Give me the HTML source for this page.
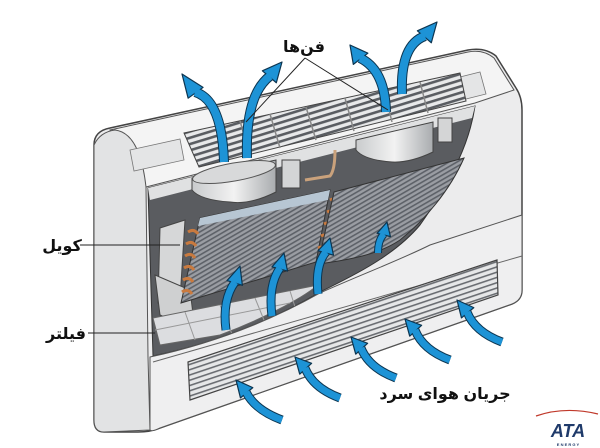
<!DOCTYPE html>
<html><head><meta charset="utf-8"><style>
html,body{margin:0;padding:0;background:#fff;}
svg{display:block}
text{font-family:"Liberation Sans","DejaVu Sans",sans-serif;font-weight:bold;fill:#111}
</style></head><body>
<svg id="s" width="600" height="448" viewBox="0 0 600 448" xmlns="http://www.w3.org/2000/svg">
<defs>
<pattern id="fin" width="4" height="4" patternUnits="userSpaceOnUse" patternTransform="rotate(60)">
<rect width="4" height="4" fill="#9a9da3"/><rect width="1.6" height="4" fill="#5d6168"/></pattern>
<pattern id="gr" width="6" height="6" patternUnits="userSpaceOnUse" patternTransform="rotate(-17)">
<rect width="6" height="6" fill="#e8e9ea"/><rect width="6" height="2.6" fill="#5a5d62"/></pattern>
<pattern id="gr2" width="5" height="5" patternUnits="userSpaceOnUse" patternTransform="rotate(-18.5)">
<rect width="5" height="5" fill="#e6e7e8"/><rect width="5" height="1.6" fill="#6a6d72"/></pattern>
<linearGradient id="fan" x1="0" x2="1"><stop offset="0" stop-color="#c9cbcd"/><stop offset="0.5" stop-color="#f2f2f2"/><stop offset="1" stop-color="#a9acaf"/></linearGradient>
</defs>
<rect width="600" height="448" fill="#fff"/>
<path d="M94,145 Q94,131 110,128 L468,50 Q485,47 496,56 L516,88 Q522,97 522,110 L522,290 Q522,300 512,304 L160,428 Q150,432 138,432 L104,432 Q94,432 94,420 Z" fill="#ececed" stroke="#444" stroke-width="1.5"/>
<path d="M110,130 L468,52 Q483,49 494,58 L514,90 L475,103 L146,187 Z" fill="#f4f4f4" stroke="#555" stroke-width="1"/>
<path d="M94,145 Q100,132 115,130 Q140,133 146,187 L148,357 L150,430 L104,432 Q94,432 94,420 Z" fill="#e2e3e4" stroke="#555" stroke-width="1"/>
<path d="M130,150 L180,139 L184,160 L134,171 Z" fill="#e4e5e6" stroke="#777" stroke-width="0.8"/>
<path d="M452,79 L480,72 L486,94 L458,101 Z" fill="#e4e5e6" stroke="#777" stroke-width="0.8"/>
<path d="M184,133 L460,73 L466,101 L199,167 Z" fill="url(#gr)" stroke="#444" stroke-width="1"/>
<g stroke="#888" stroke-width="1.5">
<line x1="240" y1="121" x2="250" y2="155"/><line x1="270" y1="114" x2="280" y2="148"/><line x1="306" y1="107" x2="316" y2="140"/><line x1="345" y1="98" x2="354" y2="131"/><line x1="384" y1="90" x2="392" y2="122"/><line x1="420" y1="82" x2="428" y2="113"/>
</g>
<path d="M148,188 L475,106 C470,140 455,175 420,225 C395,255 355,275 320,292 C290,310 230,340 153,356 Z" fill="#5a5c60" stroke="#333" stroke-width="1"/>
<path d="M148,188 L475,106 L472,118 L150,200 Z" fill="#e0e1e2"/>
<path d="M192,178 L276,160 L276,192 Q250,205 230,202 Q200,200 192,190 Z" fill="url(#fan)" stroke="#444"/>
<ellipse cx="234" cy="172" rx="42" ry="9" transform="rotate(-10 234 172)" fill="#d8d9da" stroke="#555"/>
<path d="M356,140 L433,122 L433,152 Q410,163 392,162 Q364,160 356,150 Z" fill="url(#fan)" stroke="#444"/>
<rect x="282" y="160" width="18" height="28" fill="#d4d5d6" stroke="#444"/>
<rect x="438" y="118" width="14" height="24" fill="#d4d5d6" stroke="#444"/>
<path d="M305,180 L330,176 Q335,170 335,150" fill="none" stroke="#caa27c" stroke-width="3"/>
<path d="M160,228 L185,220 L180,300 L158,303 Z" fill="#d6d7d8" stroke="#444"/>
<path d="M155,275 L190,290 L195,330 L160,315 Z" fill="#cfd0d1" stroke="#444"/>
<path d="M200,218 L330,190 L316,262 L181,303 Z" fill="url(#fin)" stroke="#333"/>
<path d="M200,218 L330,190 L328,200 L198,226 Z" fill="#b7c6d3"/>
<g fill="none" stroke="#c97a3f" stroke-width="3">
<path d="M188,232 q6,-4 10,2"/><path d="M186,244 q6,-4 10,2"/><path d="M185,256 q6,-4 10,2"/><path d="M184,268 q6,-4 10,2"/><path d="M183,280 q6,-4 10,2"/><path d="M182,292 q6,-4 10,2"/>
<path d="M330,200 q6,-3 8,2"/><path d="M327,212 q6,-3 8,2"/><path d="M324,224 q6,-3 8,2"/><path d="M321,236 q6,-3 8,2"/><path d="M318,248 q6,-3 8,2"/>
</g>
<path d="M334,192 L464,158 C450,190 425,220 400,240 C385,250 365,258 318,264 Z" fill="url(#fin)" stroke="#333"/>
<path d="M153,318 L318,285 C300,300 260,320 220,335 L160,345 Z" fill="#dcdde0" stroke="#666"/>
<g stroke="#999" stroke-width="1"><line x1="185" y1="312" x2="195" y2="340"/><line x1="220" y1="305" x2="232" y2="334"/><line x1="255" y1="298" x2="266" y2="325"/><line x1="290" y1="291" x2="296" y2="310"/><line x1="155" y1="330" x2="290" y2="303"/></g>
<path d="M150,357 C230,340 290,310 320,293 C360,275 400,260 430,245 L522,215 L522,290 Q522,300 512,304 L160,428 Q152,432 150,430 Z" fill="#efeff0" stroke="#555" stroke-width="1"/>
<line x1="150" y1="357" x2="150" y2="430" stroke="#555"/>
<path d="M153,362 L522,256" stroke="#666" stroke-width="1"/>
<path d="M188,362 L497,260 L498,295 L190,400 Z" fill="url(#gr2)" stroke="#444" stroke-width="1.2"/>
<g id="arrows"></g>
<line x1="305" y1="58" x2="246" y2="122" stroke="#222" stroke-width="1"/>
<line x1="305" y1="58" x2="388" y2="110" stroke="#222" stroke-width="1"/>
<text x="304" y="52" font-size="16" text-anchor="middle">فن‌ها</text>
<line x1="80" y1="245" x2="180" y2="245" stroke="#222" stroke-width="1"/>
<text x="62" y="251" font-size="16" text-anchor="middle">کویل</text>
<line x1="88" y1="333" x2="155" y2="333" stroke="#222" stroke-width="1"/>
<text x="66" y="339" font-size="16" text-anchor="middle">فیلتر</text>
<text x="445" y="399" font-size="16" text-anchor="middle">جریان هوای سرد</text>
<path d="M536,416 Q565,406 598,414" fill="none" stroke="#c0392b" stroke-width="1.2"/>
<text x="568" y="437" font-size="18" text-anchor="middle" style="fill:#1f3a6a;font-style:italic">ATA</text>
<text x="568" y="446" font-size="4" text-anchor="middle" style="fill:#1f3a6a">E N E R G Y</text>
</svg>
<script>
(function(){
var A=[
[224,162,222,100,195,92,182,74,8],
[247,158,245,95,270,76,282,62,8],
[386,112,385,70,360,58,350,45,8],
[402,94,400,45,425,36,437,22,8],
[226,330,222,300,235,282,240,266,7],
[272,316,268,285,280,268,284,253,7],
[318,294,315,265,326,252,330,238,7],
[378,253,378,240,384,234,387,222,6],
[282,420,255,410,246,392,236,380,7],
[340,398,313,388,305,368,295,357,7],
[396,378,369,368,361,348,351,337,7],
[450,360,423,350,415,330,405,319,7],
[502,342,475,332,467,312,457,300,7]];
var g=document.getElementById('arrows'),ns='http://www.w3.org/2000/svg',h='';
A.forEach(function(a){
var d='M'+a[0]+','+a[1]+' Q'+a[2]+','+a[3]+' '+a[4]+','+a[5];
var dx=a[6]-a[4],dy=a[7]-a[5],l=Math.sqrt(dx*dx+dy*dy),nx=-dy/l,ny=dx/l,w=a[8]*1.15;
var bx=a[4]-dx/l*1,by=a[5]-dy/l*1;
var t=a[6]+','+a[7]+' '+(bx+nx*w)+','+(by+ny*w)+' '+(bx-nx*w)+','+(by-ny*w);
h+='<path d="'+d+'" fill="none" stroke="#0d3550" stroke-width="'+(a[8]+2)+'"/>';
h+='<polygon points="'+t+'" fill="#1d93d6" stroke="#0d3550" stroke-width="1.2" stroke-linejoin="round"/>';
h+='<path d="'+d+'" fill="none" stroke="#1d93d6" stroke-width="'+a[8]+'"/>';
});
g.innerHTML=h;
})();
</script>
</body></html>
